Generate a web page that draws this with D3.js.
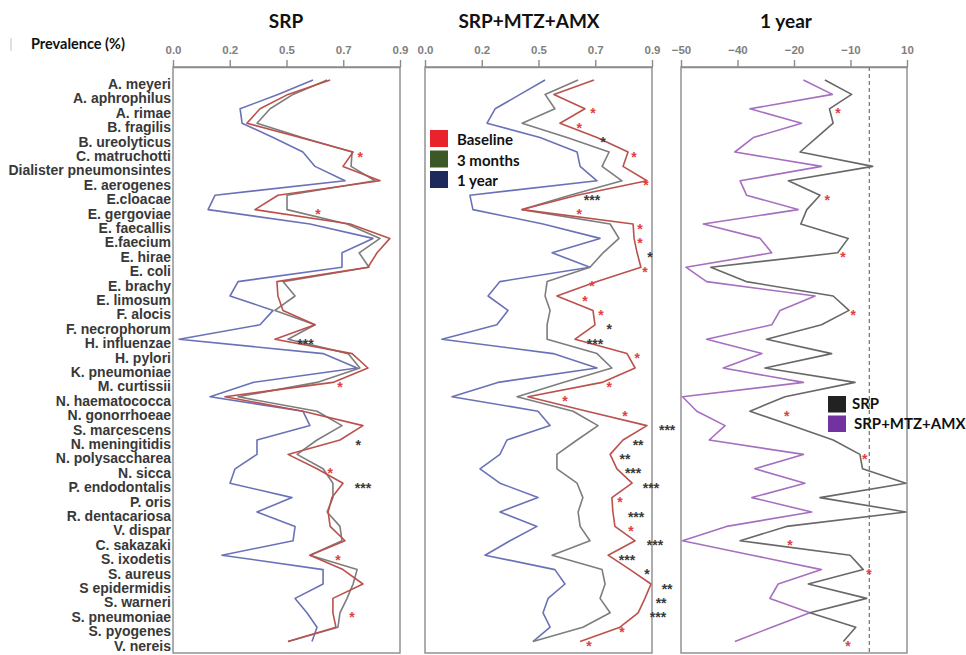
<!DOCTYPE html>
<html>
<head>
<meta charset="utf-8">
<script src="https://cdn.jsdelivr.net/npm/d3@7"></script>
<style>
  body { margin: 0; background: #fff; }
  svg { display: block; }
</style>
</head>
<body>
<svg id="chart" width="966" height="655"></svg>
<script>
// Species, top to bottom
const species = [
  "A. meyeri", "A. aphrophilus", "A. rimae", "B. fragilis", "B. ureolyticus",
  "C. matruchotti", "Dialister pneumonsintes", "E. aerogenes", "E.cloacae", "E. gergoviae",
  "E. faecallis", "E.faecium", "E. hirae", "E. coli", "E. brachy",
  "E. limosum", "F. alocis", "F. necrophorum", "H. influenzae", "H. pylori",
  "K. pneumoniae", "M. curtissii", "N. haematococca", "N. gonorrhoeae", "S. marcescens",
  "N. meningitidis", "N. polysaccharea", "N. sicca", "P. endodontalis", "P. oris",
  "R. dentacariosa", "V. dispar", "C. sakazaki", "S. ixodetis", "S. aureus",
  "S epidermidis", "S. warneri", "S. pneumoniae", "S. pyogenes", "V. nereis"
];

// Prevalence, SRP group
const srpBaseline = [0.623,0.456,0.345,0.293,0.504,0.714,0.674,0.821,0.416,0.325,0.702,0.860,0.809,0.773,0.412,0.416,0.436,0.563,0.404,0.710,0.773,0.634,0.206,0.515,0.753,0.662,0.456,0.571,0.674,0.630,0.615,0.623,0.682,0.543,0.674,0.753,0.634,0.634,0.646,0.456];
const srp3Months  = [0.611,0.476,0.385,0.333,0.512,0.710,0.706,0.801,0.452,0.452,0.690,0.821,0.738,0.777,0.436,0.484,0.404,0.563,0.456,0.694,0.741,0.571,0.258,0.571,0.670,0.571,0.492,0.595,0.634,0.634,0.611,0.662,0.670,0.543,0.730,0.714,0.690,0.662,0.654,0.456];
const srp1Year    = [0.555,0.416,0.266,0.274,0.397,0.515,0.563,0.682,0.167,0.139,0.543,0.793,0.670,0.670,0.258,0.226,0.397,0.345,0.024,0.595,0.730,0.317,0.147,0.515,0.543,0.333,0.333,0.246,0.226,0.472,0.333,0.484,0.476,0.194,0.595,0.595,0.484,0.531,0.571,0.551];

// Prevalence, SRP+MTZ+AMX group
const combBaseline = [0.670,0.511,0.634,0.535,0.682,0.805,0.785,0.880,0.603,0.385,0.825,0.829,0.841,0.856,0.682,0.523,0.666,0.674,0.595,0.801,0.833,0.702,0.408,0.642,0.880,0.785,0.734,0.761,0.821,0.741,0.745,0.753,0.833,0.726,0.813,0.896,0.872,0.845,0.773,0.615];
const comb3Months  = [0.607,0.476,0.515,0.385,0.563,0.730,0.702,0.781,0.575,0.385,0.734,0.769,0.706,0.654,0.484,0.476,0.496,0.484,0.484,0.682,0.741,0.547,0.365,0.587,0.686,0.603,0.523,0.523,0.603,0.626,0.607,0.615,0.654,0.504,0.702,0.714,0.694,0.734,0.626,0.428];
const comb1Year    = [0.476,0.377,0.278,0.246,0.456,0.603,0.615,0.682,0.178,0.190,0.468,0.694,0.504,0.654,0.297,0.250,0.329,0.285,0.067,0.508,0.682,0.289,0.107,0.448,0.496,0.325,0.297,0.218,0.297,0.448,0.297,0.444,0.337,0.238,0.515,0.555,0.488,0.468,0.496,0.428];

// Change in prevalence after 1 year
const changeSRP  = [-11.8,-4.7,-10.6,-9.6,-14.0,-18.4,0.9,-21.5,-13.1,-16.6,-18.2,-5.6,-8.4,-42.1,-32.7,-9.6,-5.4,-12.7,-27.3,-10.0,-27.7,-3.8,-22.4,-31.7,-20.6,-9.6,-2.5,-1.8,9.7,-13.1,9.7,-22.0,-34.3,-5.1,-1.6,-16.2,-0.7,-15.8,-3.6,-6.9];
const changeComb = [-17.5,-9.8,-31.7,-18.0,-30.8,-35.7,-12.7,-34.3,-32.6,-18.9,-44.1,-29.0,-25.9,-48.7,-43.2,-14.4,-23.7,-25.9,-43.2,-28.5,-38.8,-17.5,-49.6,-45.8,-38.3,-42.5,-17.5,-30.4,-17.1,-31.2,-15.3,-37.9,-49.6,-31.1,-12.7,-24.2,-26.4,-15.8,-25.9,-35.7];

// Axis tick labels
const prevalenceTickLabels = ["0.0", "0.2", "0.5", "0.7", "0.9"];
const changeTickLabels = ["\u221250", "\u221240", "\u221220", "\u221210", "10"];

// Significance marks: [row, position, text, red (baseline) or dark]
const srpStars = [
  [5, 0.742, "*", "red"], [9, 0.575, "*", "red"], [18, 0.525, "***", "dark"],
  [21, 0.662, "*", "red"], [25, 0.734, "*", "dark"], [27, 0.623, "*", "red"],
  [28, 0.753, "***", "dark"], [33, 0.654, "*", "red"], [37, 0.710, "*", "red"]
];
const combStars = [
  [2, 0.666, "*", "red"], [3, 0.611, "*", "red"], [4, 0.706, "*", "dark"],
  [5, 0.829, "*", "red"], [7, 0.876, "*", "red"], [8, 0.662, "***", "dark"],
  [9, 0.611, "*", "red"], [10, 0.852, "*", "red"], [11, 0.852, "*", "red"],
  [12, 0.892, "*", "dark"], [13, 0.872, "*", "red"], [14, 0.662, "*", "red"],
  [15, 0.634, "*", "red"], [16, 0.698, "*", "red"], [17, 0.730, "*", "dark"],
  [18, 0.674, "***", "dark"], [19, 0.841, "*", "red"], [21, 0.730, "*", "red"],
  [22, 0.555, "*", "red"], [23, 0.793, "*", "red"], [24, 0.960, "***", "dark"],
  [25, 0.845, "**", "dark"], [26, 0.793, "**", "dark"], [27, 0.825, "***", "dark"],
  [28, 0.896, "***", "dark"], [29, 0.773, "*", "red"], [30, 0.837, "***", "dark"],
  [31, 0.817, "*", "red"], [32, 0.912, "***", "dark"], [33, 0.801, "***", "dark"],
  [34, 0.880, "*", "dark"], [35, 0.960, "**", "dark"], [36, 0.936, "**", "dark"],
  [37, 0.924, "***", "dark"], [38, 0.781, "*", "red"], [39, 0.650, "*", "red"]
];
const changeStars = [
  [2, -8.3, "*", "red"], [8, -11.2, "*", "red"], [12, -7.0, "*", "red"],
  [16, -4.3, "*", "red"], [23, -21.9, "*", "red"], [26, -1.2, "*", "red"],
  [32, -21.1, "*", "red"], [34, -0.1, "*", "red"], [39, -5.7, "*", "red"]
];

const timeLegend = ["Baseline", "3 months", "1 year"];
const groupLegend = ["SRP", "SRP+MTZ+AMX"];

// ---- layout ----
const svg = d3.select("#chart");
const plotTop = 67, plotBottom = 653;
const labelFont = "'Liberation Sans', Arial, sans-serif";
const headFont = "Lato, 'Open Sans', sans-serif";

const lineColors = { base: "#bb514c", m3: "#7d7d7d", y1: "#6a72b6", srp: "#686868", comb: "#a66fc0" };
const starColors = { red: "#e2403e", dark: "#3a3a3a" };

const y = d3.scalePoint().domain(species).range([80, 641.6]);

const panels = [
  { title: "SRP", titleX: 286, x: d3.scaleLinear().domain([0, 0.9]).range([173, 400]), ticks: prevalenceTickLabels },
  { title: "SRP+MTZ+AMX", titleX: 529, x: d3.scaleLinear().domain([0, 0.9]).range([425, 652]), ticks: prevalenceTickLabels },
  { title: "1 year", titleX: 786, x: d3.scaleLinear().domain([-50, 10]).range([681, 907]), ticks: changeTickLabels }
];

// faint mark at the top-left corner
svg.append("line").attr("x1", 11).attr("x2", 11).attr("y1", 38).attr("y2", 51)
  .attr("stroke", "#d6d6d6").attr("stroke-width", 1.5);

svg.append("text").attr("x", 31).attr("y", 44).attr("dy", "0.35em")
  .attr("font-family", headFont).attr("font-weight", 700).attr("font-size", 14.5)
  .attr("fill", "#111").text("Prevalence (%)");

panels.forEach(p => {
  const [x0, x1] = p.x.range();
  const [d0, d1] = p.x.domain();

  svg.append("rect").attr("x", x0).attr("y", plotTop).attr("width", x1 - x0).attr("height", plotBottom - plotTop)
    .attr("fill", "none").attr("stroke", "#8a8a8a").attr("stroke-width", 1.4);

  const tickVals = d3.range(p.ticks.length).map(i => d0 + (d1 - d0) * i / (p.ticks.length - 1));
  const ax = svg.append("g").attr("transform", `translate(0,${plotTop})`)
    .call(d3.axisTop(p.x).tickValues(tickVals).tickFormat((d, i) => p.ticks[i])
      .tickSize(7).tickSizeOuter(0).tickPadding(6));
  ax.select(".domain").attr("stroke", "#8a8a8a").attr("stroke-width", 1.4);
  ax.selectAll(".tick line").attr("stroke", "#8a8a8a").attr("stroke-width", 1.4);
  ax.selectAll(".tick text").attr("font-family", labelFont).attr("font-weight", 700)
    .attr("font-size", 11.5).attr("fill", "#808080");

  svg.append("text").attr("x", p.titleX).attr("y", 21).attr("dy", "0.35em")
    .attr("text-anchor", "middle").attr("font-family", headFont).attr("font-weight", 700)
    .attr("font-size", 19).attr("fill", "#111").text(p.title);
});

// species labels
svg.append("g").selectAll("text").data(species).join("text")
  .attr("x", 171).attr("y", d => y(d) + 4).attr("dy", "0.35em")
  .attr("text-anchor", "end").attr("font-family", labelFont).attr("font-weight", 700)
  .attr("font-size", 14).attr("fill", "#383838").text(d => d);

// zero reference in the change panel
const xc = panels[2].x;
svg.append("line").attr("x1", xc(0)).attr("x2", xc(0)).attr("y1", plotTop).attr("y2", plotBottom)
  .attr("stroke", "#7a7a7a").attr("stroke-width", 1.3).attr("stroke-dasharray", "4,3");

function drawLine(scale, values, color) {
  const line = d3.line().x(d => scale(d[1])).y(d => y(d[0]));
  svg.append("path").datum(species.map((s, i) => [s, values[i]]))
    .attr("d", line).attr("fill", "none").attr("stroke", color)
    .attr("stroke-width", 1.6).attr("stroke-linejoin", "round");
}

drawLine(panels[0].x, srp1Year, lineColors.y1);
drawLine(panels[0].x, srp3Months, lineColors.m3);
drawLine(panels[0].x, srpBaseline, lineColors.base);

drawLine(panels[1].x, comb1Year, lineColors.y1);
drawLine(panels[1].x, comb3Months, lineColors.m3);
drawLine(panels[1].x, combBaseline, lineColors.base);

drawLine(panels[2].x, changeComb, lineColors.comb);
drawLine(panels[2].x, changeSRP, lineColors.srp);

// asterisks: the glyph sits high in the em box, so the baseline goes below the row
function drawStars(scale, marks) {
  svg.append("g").selectAll("text").data(marks).join("text")
    .attr("x", d => scale(d[1])).attr("y", d => y(species[d[0]]) + 9.5)
    .attr("text-anchor", "middle").attr("font-family", labelFont).attr("font-weight", 700)
    .attr("font-size", 14).attr("fill", d => starColors[d[3]]).text(d => d[2]);
}
drawStars(panels[0].x, srpStars);
drawStars(panels[1].x, combStars);
drawStars(panels[2].x, changeStars);

// legend: time points
const timeSwatch = ["#e8232b", "#3c5826", "#1f2a5c"];
const lg1 = svg.append("g");
timeLegend.forEach((t, i) => {
  lg1.append("rect").attr("x", 430).attr("y", 130 + i * 20.5).attr("width", 18).attr("height", 17)
    .attr("fill", timeSwatch[i]);
  lg1.append("text").attr("x", 457).attr("y", 140 + i * 20.5).attr("dy", "0.35em")
    .attr("font-family", headFont).attr("font-weight", 700).attr("font-size", 15)
    .attr("fill", "#111").text(t);
});

// legend: treatment groups
const groupSwatch = ["#222222", "#7232a0"];
const lg2 = svg.append("g");
groupLegend.forEach((t, i) => {
  lg2.append("rect").attr("x", 828).attr("y", 396 + i * 19.5).attr("width", 18).attr("height", 16.5)
    .attr("fill", groupSwatch[i]);
  lg2.append("text").attr("x", 852 + i * 2).attr("y", 404 + i * 19.5).attr("dy", "0.35em")
    .attr("font-family", headFont).attr("font-weight", 700).attr("font-size", 15)
    .attr("fill", "#111").text(t);
});
</script>
</body>
</html>
